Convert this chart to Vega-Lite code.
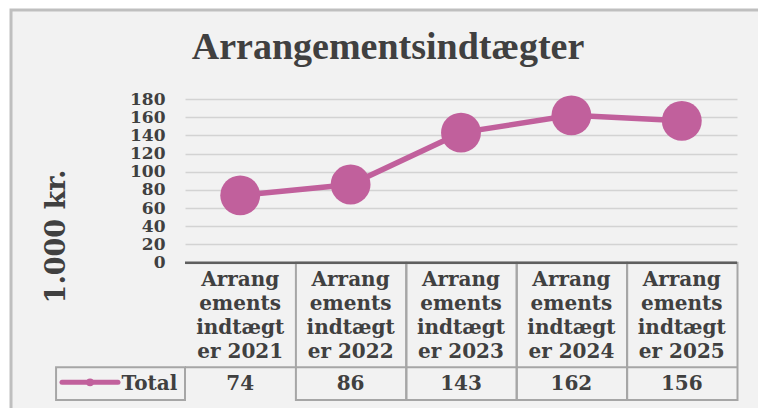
{
  "$schema": "https://vega.github.io/schema/vega-lite/v6.json",
  "width": 552,
  "height": 301,
  "autosize": {"type": "none"},
  "padding": {"left": 185, "top": 99, "right": 21, "bottom": 8},
  "background": "#f2f2f2",
  "config": {
    "view": {"stroke": null}
  },
  "title": {
    "text": "Arrangementsindtægter",
    "font": "Liberation Serif",
    "fontSize": 38,
    "fontWeight": "bold",
    "color": "#404040",
    "anchor": "middle",
    "frame": "group",
    "baseline": "alphabetic",
    "dx": -73,
    "offset": -107
  },
  "data": {
    "values": [
      {"year": 2021, "label": "Arrang\nements\nindtægt\ner 2021", "series": "Total", "value": 74},
      {"year": 2022, "label": "Arrang\nements\nindtægt\ner 2022", "series": "Total", "value": 86},
      {"year": 2023, "label": "Arrang\nements\nindtægt\ner 2023", "series": "Total", "value": 143},
      {"year": 2024, "label": "Arrang\nements\nindtægt\ner 2024", "series": "Total", "value": 162},
      {"year": 2025, "label": "Arrang\nements\nindtægt\ner 2025", "series": "Total", "value": 156}
    ]
  },
  "layer": [
    {
      "mark": {"type": "line", "color": "#c1609c", "strokeWidth": 5.5},
      "encoding": {
        "x": {"field": "year", "type": "quantitative", "scale": {"domain": [2020.5, 2025.5], "nice": false, "zero": false}, "axis": null},
        "y": {
          "field": "value",
          "type": "quantitative",
          "scale": {"domain": [-151, 180], "nice": false, "zero": false},
          "axis": {
            "title": "1.000 kr.",
            "tickCount": 17,
            "labelExpr": "datum.value < 0 ? '' : datum.label",
            "grid": true,
            "gridColor": "#d3d3d3",
            "gridOpacity": {"condition": {"test": "datum.value < 0", "value": 0}, "value": 1},
            "gridWidth": 1.6,
            "domain": false,
            "ticks": false,
            "labelPadding": 20,
            "labelFont": "DejaVu Serif",
            "labelFontSize": 17,
            "labelFontWeight": "bold",
            "labelColor": "#404040",
            "labelOverlap": false,
            "labelSeparation": 0,
            "labelFlush": false,
            "titleFont": "DejaVu Serif",
            "titleFontSize": 27,
            "titleFontWeight": "bold",
            "titleColor": "#404040",
            "titleAngle": -90,
            "titleX": -129,
            "titleY": 137,
            "titleAlign": "center",
            "titleBaseline": "middle"
          }
        }
      }
    },
    {
      "data": {"values": [{}]},
      "mark": {"type": "rect", "fill": "transparent", "stroke": "white", "strokeWidth": 20},
      "encoding": {
        "x": {"datum": 2018.824, "type": "quantitative", "scale": {"domain": [2020.5, 2025.5], "nice": false, "zero": false}, "axis": null},
        "x2": {"datum": 2027.5},
        "y": {"datum": 289, "type": "quantitative", "scale": {"domain": [-151, 180], "nice": false, "zero": false}},
        "y2": {"datum": -220}
      }
    },
    {
      "data": {"values": [{}]},
      "mark": {"type": "rect", "fill": "transparent", "stroke": "#bfbfbf", "strokeWidth": 3},
      "encoding": {
        "x": {"datum": 2018.924, "type": "quantitative", "scale": {"domain": [2020.5, 2025.5], "nice": false, "zero": false}, "axis": null},
        "x2": {"datum": 2027.5},
        "y": {"datum": 278, "type": "quantitative", "scale": {"domain": [-151, 180], "nice": false, "zero": false}},
        "y2": {"datum": -220}
      }
    },
    {
      "mark": {"type": "rect", "fill": "transparent", "stroke": "#a6a6a6", "strokeWidth": 2, "binSpacing": 0},
      "encoding": {
        "x": {"field": "year", "type": "quantitative", "bin": {"step": 1, "anchor": 2020.5, "nice": false}, "scale": {"domain": [2020.5, 2025.5], "nice": false, "zero": false}, "axis": null},
        "y": {"datum": 0, "type": "quantitative", "scale": {"domain": [-151, 180], "nice": false, "zero": false}},
        "y2": {"datum": -151}
      }
    },
    {
      "data": {"values": [{}]},
      "mark": {"type": "rect", "fill": "transparent", "stroke": "#a6a6a6", "strokeWidth": 2},
      "encoding": {
        "x": {"datum": 2019.332, "type": "quantitative", "scale": {"domain": [2020.5, 2025.5], "nice": false, "zero": false}, "axis": null},
        "x2": {"datum": 2020.5},
        "y": {"datum": -115, "type": "quantitative", "scale": {"domain": [-151, 180], "nice": false, "zero": false}},
        "y2": {"datum": -151}
      }
    },
    {
      "data": {"values": [{}]},
      "mark": {"type": "rule", "stroke": "#a6a6a6", "strokeWidth": 2},
      "encoding": {
        "x": {"datum": 2020.5, "type": "quantitative", "scale": {"domain": [2020.5, 2025.5], "nice": false, "zero": false}, "axis": null},
        "x2": {"datum": 2025.5},
        "y": {"datum": -115, "type": "quantitative", "scale": {"domain": [-151, 180], "nice": false, "zero": false}}
      }
    },
    {
      "data": {"values": [{}]},
      "mark": {"type": "rule", "stroke": "#5f5f5f", "strokeWidth": 2.5},
      "encoding": {
        "x": {"datum": 2020.5, "type": "quantitative", "scale": {"domain": [2020.5, 2025.5], "nice": false, "zero": false}, "axis": null},
        "x2": {"datum": 2025.5},
        "y": {"datum": 0, "type": "quantitative", "scale": {"domain": [-151, 180], "nice": false, "zero": false}}
      }
    },
    {
      "mark": {"type": "circle", "color": "#c1609c", "opacity": 1, "size": 1590},
      "encoding": {
        "x": {"field": "year", "type": "quantitative", "scale": {"domain": [2020.5, 2025.5], "nice": false, "zero": false}, "axis": null},
        "y": {"field": "value", "type": "quantitative", "scale": {"domain": [-151, 180], "nice": false, "zero": false}}
      }
    },
    {
      "mark": {"type": "text", "font": "DejaVu Serif", "fontSize": 20, "fontWeight": "bold", "color": "#404040", "lineBreak": "\n", "lineHeight": 24, "align": "center", "baseline": "middle"},
      "encoding": {
        "x": {"field": "year", "type": "quantitative", "scale": {"domain": [2020.5, 2025.5], "nice": false, "zero": false}, "axis": null},
        "y": {"datum": -18.5, "type": "quantitative", "scale": {"domain": [-151, 180], "nice": false, "zero": false}},
        "text": {"field": "label"}
      }
    },
    {
      "mark": {"type": "text", "font": "DejaVu Serif", "fontSize": 20, "fontWeight": "bold", "color": "#404040", "align": "center", "baseline": "middle"},
      "encoding": {
        "x": {"field": "year", "type": "quantitative", "scale": {"domain": [2020.5, 2025.5], "nice": false, "zero": false}, "axis": null},
        "y": {"datum": -133, "type": "quantitative", "scale": {"domain": [-151, 180], "nice": false, "zero": false}},
        "text": {"field": "value"}
      }
    },
    {
      "data": {"values": [{}]},
      "mark": {"type": "rule", "stroke": "#c1609c", "strokeWidth": 5, "strokeCap": "round"},
      "encoding": {
        "x": {"datum": 2019.386, "type": "quantitative", "scale": {"domain": [2020.5, 2025.5], "nice": false, "zero": false}, "axis": null},
        "x2": {"datum": 2019.893},
        "y": {"datum": -131.5, "type": "quantitative", "scale": {"domain": [-151, 180], "nice": false, "zero": false}}
      }
    },
    {
      "data": {"values": [{}]},
      "mark": {"type": "circle", "color": "#c1609c", "opacity": 1, "size": 60},
      "encoding": {
        "x": {"datum": 2019.64, "type": "quantitative", "scale": {"domain": [2020.5, 2025.5], "nice": false, "zero": false}, "axis": null},
        "y": {"datum": -131.5, "type": "quantitative", "scale": {"domain": [-151, 180], "nice": false, "zero": false}}
      }
    },
    {
      "data": {"values": [{"series": "Total"}]},
      "mark": {"type": "text", "font": "DejaVu Serif", "fontSize": 20, "fontWeight": "bold", "color": "#404040", "align": "right", "baseline": "middle"},
      "encoding": {
        "x": {"datum": 2020.43, "type": "quantitative", "scale": {"domain": [2020.5, 2025.5], "nice": false, "zero": false}, "axis": null},
        "y": {"datum": -133, "type": "quantitative", "scale": {"domain": [-151, 180], "nice": false, "zero": false}},
        "text": {"field": "series"}
      }
    }
  ]
}
